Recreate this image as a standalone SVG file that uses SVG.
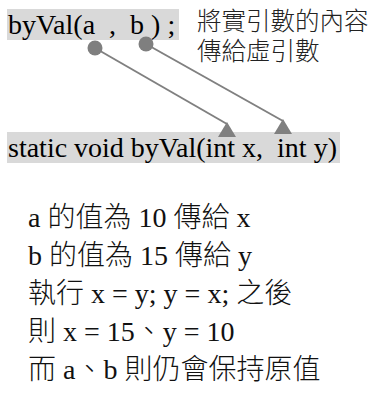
<svg xmlns="http://www.w3.org/2000/svg" width="372" height="403" viewBox="0 0 372 403">
<style>
.box{fill:#d9d9d9}
.code{font-family:"Liberation Serif","Noto Sans CJK TC",serif;font-size:28px;fill:#000}
.note{font-family:"Noto Sans CJK TC",sans-serif;font-size:24.5px;fill:#222;font-weight:300}
.body{font-family:"Liberation Serif","Noto Sans CJK TC",serif;font-size:28px;fill:#111}
.cjk{font-family:"Noto Sans CJK TC",sans-serif;font-weight:300}
.con{stroke:#808080;stroke-width:2;fill:none}
.dot{fill:#7f7f7f}
.head{fill:#808080}
</style>
<g id="call">
<rect class="box" x="7" y="9" width="172" height="31"/>
<text class="code" x="8" y="34" xml:space="preserve">byVal(a  ,  b ) ;</text>
</g>
<g id="note">
<text class="note" x="197" y="30">將實引數的內容</text>
<text class="note" x="197" y="60">傳給虛引數</text>
</g>
<g id="decl">
<rect class="box" x="7" y="132" width="333" height="31"/>
<text class="code" x="8" y="157" xml:space="preserve">static void byVal(int x,  int y)</text>
</g>
<g id="connectors">
<line class="con" x1="95" y1="48" x2="227" y2="124"/>
<line class="con" x1="146" y1="44" x2="283" y2="121"/>
<circle class="dot" cx="95" cy="48" r="7.5"/>
<circle class="dot" cx="146" cy="44" r="7.5"/>
<polygon class="head" points="227,122 236,137 218,137"/>
<polygon class="head" points="283,119 292,134 274,134"/>
</g>
<g id="explain">
<text class="body" x="28" y="227">a <tspan class="cjk">的值為</tspan> 10 <tspan class="cjk">傳給</tspan> x</text>
<text class="body" x="28" y="265">b <tspan class="cjk">的值為</tspan> 15 <tspan class="cjk">傳給</tspan> y</text>
<text class="body" x="28" y="303"><tspan class="cjk">執行</tspan> x = y; y = x; <tspan class="cjk">之後</tspan></text>
<text class="body" x="28" y="341"><tspan class="cjk">則</tspan> x = 15<tspan class="cjk">、</tspan>y = 10</text>
<text class="body" x="28" y="379"><tspan class="cjk">而</tspan> a<tspan class="cjk">、</tspan>b <tspan class="cjk">則仍會保持原值</tspan></text>
</g>
</svg>
